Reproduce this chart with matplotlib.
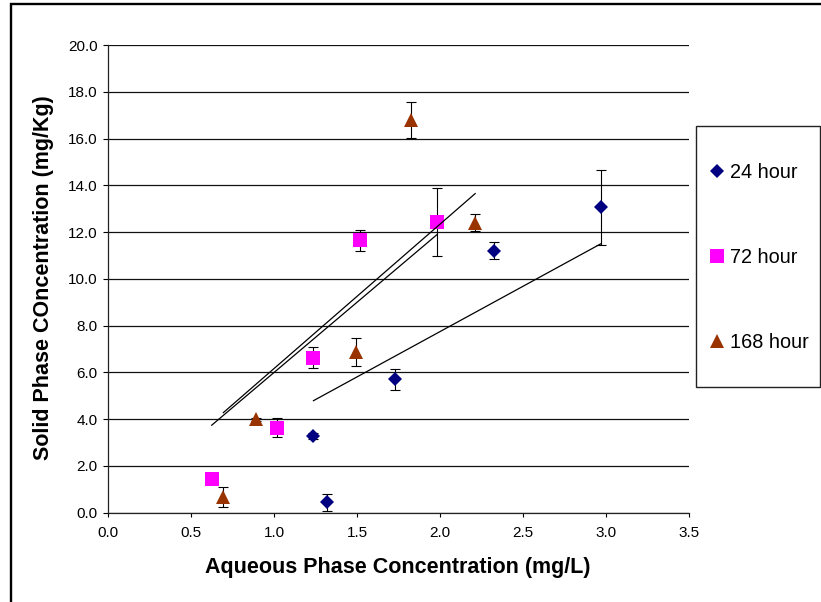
import numpy as np
import matplotlib
matplotlib.use('Agg')
import matplotlib.pyplot as plt
from matplotlib.patches import Rectangle
from matplotlib.lines import Line2D

plt.rcParams['font.family'] = ['Liberation Sans', 'DejaVu Sans']

# data
series = ['24 hour', '72 hour', '168 hour']

x_24 = [1.236, 1.318, 1.725, 2.324, 2.968]
y_24 = [3.28, 0.44, 5.70, 11.20, 13.06]
err_24 = [0.12, 0.37, 0.46, 0.37, 1.61]

x_72 = [0.623, 1.014, 1.235, 1.517, 1.980]
y_72 = [1.44, 3.63, 6.63, 11.65, 12.42]
err_72 = [0.05, 0.40, 0.46, 0.45, 1.45]

x_168 = [0.693, 0.892, 1.490, 1.823, 2.210]
y_168 = [0.68, 3.99, 6.86, 16.79, 12.40]
err_168 = [0.42, 0.05, 0.60, 0.76, 0.36]

x_ticks = [0.0, 0.5, 1.0, 1.5, 2.0, 2.5, 3.0, 3.5]
y_ticks = [0, 2, 4, 6, 8, 10, 12, 14, 16, 18, 20]

colors = ['#000080', '#FF00FF', '#993300']
markers = ['D', 's', '^']
msizes = [7.2, 9.8, 10.4]

W, H = 821, 602
fig = plt.figure(figsize=(W / 100, H / 100), dpi=100)
ax = fig.add_axes([108.3 / W, (H - 512.7) / H, 581 / W, 467.7 / H])

data = [(x_24, y_24, err_24), (x_72, y_72, err_72), (x_168, y_168, err_168)]

for (xs, ys, es), c, m, ms, lab in zip(data, colors, markers, msizes, series):
    ax.errorbar(xs, ys, yerr=es, fmt='none', ecolor='black', elinewidth=0.8,
                capsize=3.3, capthick=0.8, zorder=3)
    ax.plot(xs, ys, linestyle='none', marker=m, markersize=ms, color=c,
            markeredgewidth=0, zorder=4, label=lab)

# linear trend lines forced through the origin
for xs, ys, es in data:
    xa = np.array(xs)
    ya = np.array(ys)
    slope = np.sum(xa * ya) / np.sum(xa * xa)
    xl = np.array([xa.min(), xa.max()])
    ax.plot(xl, slope * xl, color='black', lw=0.9, zorder=5)

ax.set_xlim(0, 3.5)
ax.set_ylim(0, 20)
ax.set_xticks(x_ticks)
ax.set_xticklabels(['%.1f' % v for v in x_ticks])
ax.set_yticks(y_ticks)
ax.set_yticklabels(['%.1f' % v for v in y_ticks])
ax.tick_params(axis='x', direction='out', length=3, width=0.8, pad=6.5, labelsize=11)
ax.tick_params(axis='y', direction='out', length=3.6, width=0.8, pad=4, labelsize=11)

ax.yaxis.grid(True, color='#111111', lw=0.9)
ax.set_axisbelow(True)
for s in ['top', 'right']:
    ax.spines[s].set_visible(False)
for s in ['left', 'bottom']:
    ax.spines[s].set_color('#222222')
    ax.spines[s].set_linewidth(0.9)

fig.text(398 / W, 1 - 567 / H, 'Aqueous Phase Concentration (mg/L)',
         fontsize=15.5, fontweight='bold', ha='center', va='center')
fig.text(43.5 / W, 1 - 278 / H, 'Solid Phase COncentration (mg/Kg)',
         fontsize=15.5, fontweight='bold', ha='center', va='center', rotation=90)

# legend box
fig.patches.append(Rectangle((696 / W, 1 - 386.7 / H), 123.5 / W, 260.7 / H,
                             transform=fig.transFigure, fill=False,
                             edgecolor='#222222', lw=1.0))
handles = [Line2D([], [], linestyle='none', marker=m, markersize=ms, color=c,
                  markeredgewidth=0) for c, m, ms in zip(colors, markers, msizes)]
fig.legend(handles, series, loc='center left', bbox_to_anchor=(707 / W, 1 - 257.5 / H),
           frameon=False, fontsize=14.3, borderpad=0, handlelength=1.0,
           handletextpad=0.15, labelspacing=3.33, borderaxespad=0)

# outer frame of the chart
fig.patches.append(Rectangle((10.5 / W, -0.1), 1.2, 1.1 - 3.8 / H,
                             transform=fig.transFigure, fill=False,
                             edgecolor='black', lw=1.7))

fig.savefig('out.png', dpi=100)
